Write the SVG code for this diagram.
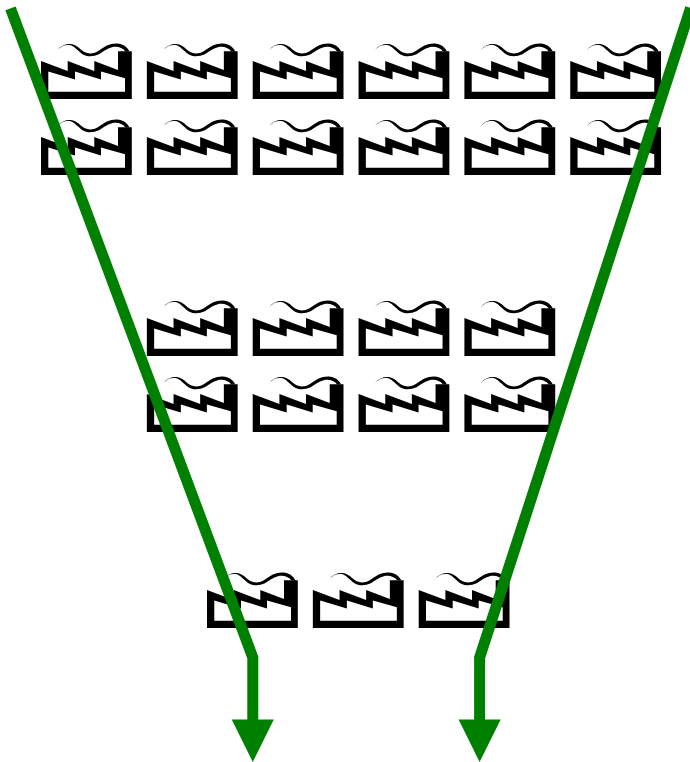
<svg xmlns="http://www.w3.org/2000/svg" width="690" height="762" viewBox="0 0 690 762">
<style>
.body{fill:#000;fill-rule:evenodd}
.flow{fill:none;stroke:#008000;stroke-width:11}
.head{fill:#008000}
</style>
<defs>
<g id="factory">
<path class="body" d="M41 61L67.700 71V61L94.300 71V61L118 70V51.300H131.800V99H41ZM48.300 71.500V91.800H125V78.200L101 71.500V79.500L75 71.500V79.500Z"/>
<path class="body" d="M57.500 50C61 45.500 66 43.600 71 44C77 44.700 80 49.500 85 52.300C89 54.300 95 53.500 99 50.500C104 46.500 110 43.100 117 43.400C123 43.700 127 46.500 129.500 51.500L125.500 51.500C122 47.300 117 46 112 47.300C107 48.500 103 52 99 54.300C94 56.600 88 57 84 55C79 52.500 76 47.500 71 45.300C66 44 61 46 57.500 50Z"/>
</g>
</defs>
<g id="factory-1-1"><use href="#factory"/></g>
<g id="factory-1-2"><use href="#factory" x="105.850"/></g>
<g id="factory-1-3"><use href="#factory" x="211.700"/></g>
<g id="factory-1-4"><use href="#factory" x="317.550"/></g>
<g id="factory-1-5"><use href="#factory" x="423.400"/></g>
<g id="factory-1-6"><use href="#factory" x="529.250"/></g>
<g id="factory-2-1"><use href="#factory" y="76"/></g>
<g id="factory-2-2"><use href="#factory" x="105.850" y="76"/></g>
<g id="factory-2-3"><use href="#factory" x="211.700" y="76"/></g>
<g id="factory-2-4"><use href="#factory" x="317.550" y="76"/></g>
<g id="factory-2-5"><use href="#factory" x="423.400" y="76"/></g>
<g id="factory-2-6"><use href="#factory" x="529.250" y="76"/></g>
<g id="factory-3-1"><use href="#factory" x="105.850" y="257"/></g>
<g id="factory-3-2"><use href="#factory" x="211.700" y="257"/></g>
<g id="factory-3-3"><use href="#factory" x="317.550" y="257"/></g>
<g id="factory-3-4"><use href="#factory" x="423.400" y="257"/></g>
<g id="factory-4-1"><use href="#factory" x="105.850" y="333"/></g>
<g id="factory-4-2"><use href="#factory" x="211.700" y="333"/></g>
<g id="factory-4-3"><use href="#factory" x="317.550" y="333"/></g>
<g id="factory-4-4"><use href="#factory" x="423.400" y="333"/></g>
<g id="factory-5-1"><use href="#factory" x="166" y="529"/></g>
<g id="factory-5-2"><use href="#factory" x="271.850" y="529"/></g>
<g id="factory-5-3"><use href="#factory" x="377.700" y="529"/></g>
<g id="connectors">
<path class="flow" d="M10.500 8.300L252.800 657.500V722"/>
<path class="head" d="M231.700 719.500H273.800L252.800 762Z"/>
<path class="flow" d="M690.600 8L479.600 657.500V722"/>
<path class="head" d="M458.600 719.500H500.700L479.600 762Z"/>
</g>
</svg>
